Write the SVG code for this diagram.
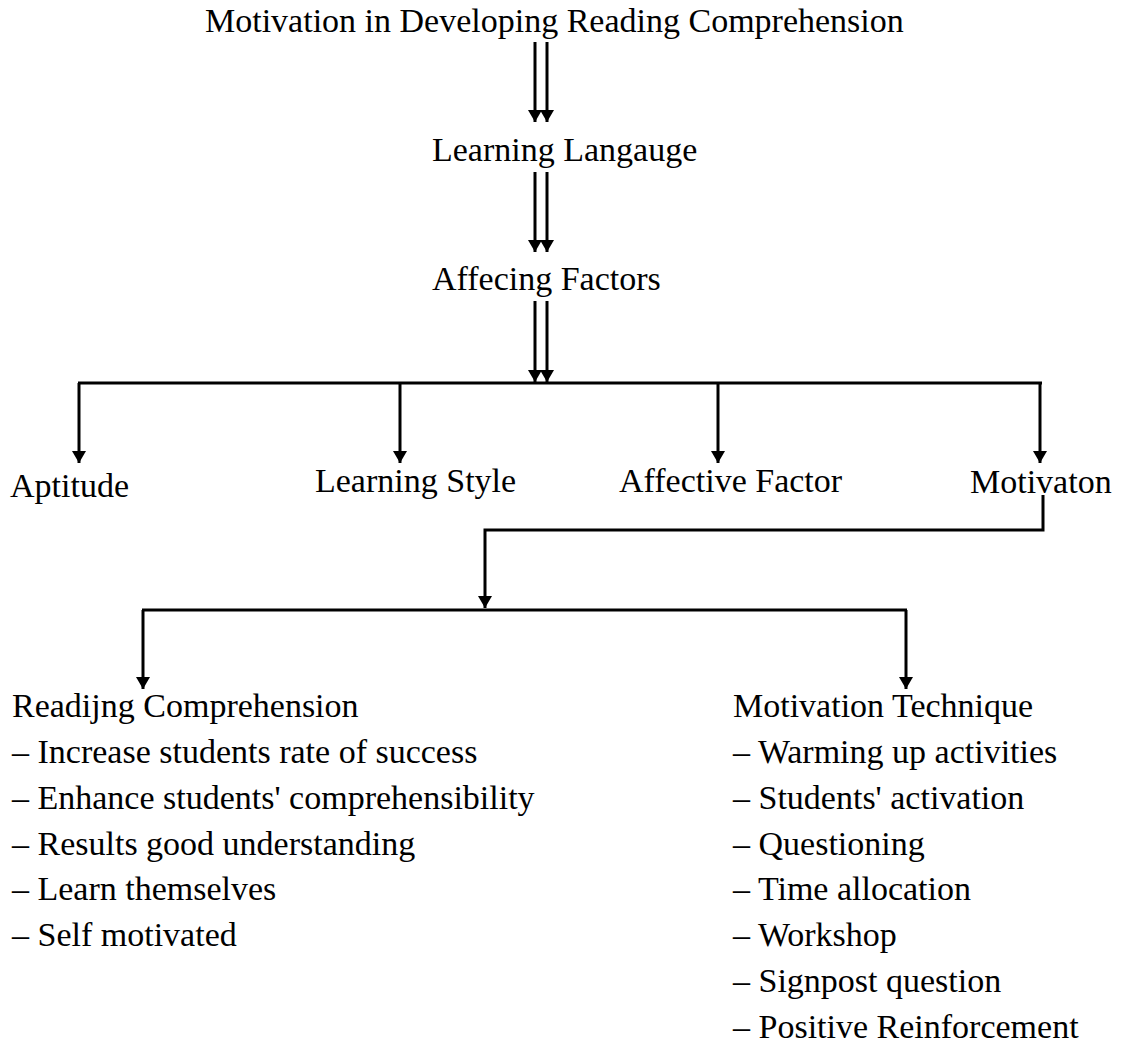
<svg xmlns="http://www.w3.org/2000/svg" width="1122" height="1045" viewBox="0 0 1122 1045">
<style>
text{font-family:"Liberation Serif","Times New Roman",serif;font-size:34px;fill:#000}
.c{stroke:#000;stroke-width:3;fill:none}
</style>
<defs>
<marker id="ah" markerUnits="userSpaceOnUse" markerWidth="14" markerHeight="16" refX="12" refY="7" orient="auto" viewBox="0 0 14 14">
<path d="M0,0 L12,7 L0,14 Z" fill="#000"/>
</marker>
</defs>
<rect width="1122" height="1045" fill="#fff"/>
<g id="connectors">
<line class="c" x1="535" y1="42" x2="535" y2="122" marker-end="url(#ah)"/>
<line class="c" x1="547" y1="42" x2="547" y2="122" marker-end="url(#ah)"/>
<line class="c" x1="535" y1="172" x2="535" y2="252" marker-end="url(#ah)"/>
<line class="c" x1="547" y1="172" x2="547" y2="252" marker-end="url(#ah)"/>
<line class="c" x1="535" y1="301" x2="535" y2="382" marker-end="url(#ah)"/>
<line class="c" x1="547" y1="301" x2="547" y2="382" marker-end="url(#ah)"/>
<line class="c" x1="78" y1="383" x2="1042" y2="383"/>
<line class="c" x1="79" y1="383" x2="79" y2="463" marker-end="url(#ah)"/>
<line class="c" x1="400" y1="383" x2="400" y2="463" marker-end="url(#ah)"/>
<line class="c" x1="718" y1="383" x2="718" y2="463" marker-end="url(#ah)"/>
<line class="c" x1="1040" y1="383" x2="1040" y2="463" marker-end="url(#ah)"/>
<path class="c" d="M1043,495 V530 H485 V608" marker-end="url(#ah)"/>
<line class="c" x1="142" y1="610" x2="907" y2="610"/>
<line class="c" x1="143" y1="610" x2="143" y2="689" marker-end="url(#ah)"/>
<line class="c" x1="906" y1="610" x2="906" y2="689" marker-end="url(#ah)"/>
</g>
<g id="title"><text x="205" y="32">Motivation in Developing Reading Comprehension</text></g>
<g id="learning-language"><text x="432" y="161">Learning Langauge</text></g>
<g id="affecting-factors"><text x="432" y="290">Affecing Factors</text></g>
<g id="aptitude"><text x="10" y="497">Aptitude</text></g>
<g id="learning-style"><text x="315" y="492">Learning Style</text></g>
<g id="affective-factor"><text x="619" y="492">Affective Factor</text></g>
<g id="motivaton"><text x="970" y="493">Motivaton</text></g>
<g id="reading-comprehension">
<text x="12" y="717">Readijng Comprehension</text>
<text x="12" y="763">– Increase students rate of success</text>
<text x="12" y="809">– Enhance students' comprehensibility</text>
<text x="12" y="855">– Results good understanding</text>
<text x="12" y="900">– Learn themselves</text>
<text x="12" y="946">– Self motivated</text>
</g>
<g id="motivation-technique">
<text x="733" y="717">Motivation Technique</text>
<text x="733" y="763">– Warming up activities</text>
<text x="733" y="809">– Students' activation</text>
<text x="733" y="855">– Questioning</text>
<text x="733" y="900">– Time allocation</text>
<text x="733" y="946">– Workshop</text>
<text x="733" y="992">– Signpost question</text>
<text x="733" y="1038">– Positive Reinforcement</text>
</g>
</svg>
